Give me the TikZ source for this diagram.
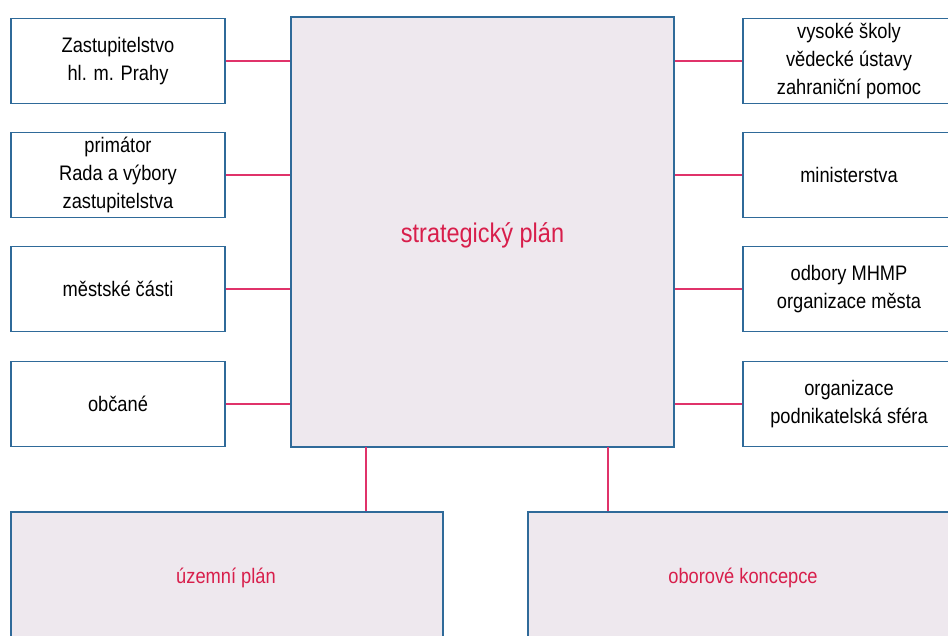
\documentclass[tikz,border=0pt]{standalone}
\usepackage{fontspec}
\setmainfont[FakeStretch=0.87]{Liberation Sans}
\definecolor{bordc}{HTML}{2F6A99}
\definecolor{linkc}{HTML}{E0336A}
\definecolor{fillc}{HTML}{EEE8EE}
\definecolor{redtxt}{HTML}{D81E4B}
\begin{document}
\begin{tikzpicture}[x=1pt,y=-1pt,
  boxbase/.style={draw=bordc,line width=1.8pt,inner sep=0pt,align=center,
    font=\fontsize{21}{28}\selectfont},
  sidebox/.style={boxbase,fill=white,minimum width=214pt,minimum height=85pt},
  bigbox/.style={boxbase,fill=fillc,text=redtxt},
  link/.style={draw=linkc,line width=1.6pt}]
\useasboundingbox (0,0) rectangle (948,635);
% centre
\node[bigbox,minimum width=383pt,minimum height=430pt] (c) at (482.5,232) {};
\node[text=redtxt,font=\fontsize{27}{32}\selectfont] (ct) at (482.5,235) {strategický plán};
% left
\node[sidebox] (l1) at (118,61) {Zastupitelstvo\\hl. m. Prahy};
\node[sidebox] (l2) at (118,175) {primátor\\Rada a výbory\\zastupitelstva};
\node[sidebox] (l3) at (118,289) {městské části};
\node[sidebox] (l4) at (118,404) {občané};
% right
\node[sidebox,minimum width=212pt] (r1) at (849,61) {vysoké školy\\vědecké ústavy\\zahraniční pomoc};
\node[sidebox,minimum width=212pt] (r2) at (849,175) {ministerstva};
\node[sidebox,minimum width=212pt] (r3) at (849,289) {odbory MHMP\\organizace města};
\node[sidebox,minimum width=212pt] (r4) at (849,404) {organizace\\podnikatelská sféra};
% bottom
\node[bigbox,minimum width=432pt,minimum height=140pt] (b1) at (227,582) {};
\node[text=redtxt,font=\fontsize{21}{28}\selectfont] (b1t) at (226,578) {územní plán};
\node[bigbox,minimum width=430pt,minimum height=140pt] (b2) at (743,582) {};
\node[text=redtxt,font=\fontsize{21}{28}\selectfont] (b2t) at (743,578) {oborové koncepce};
% connectors
\foreach \n in {l1,l2,l3,l4}{\draw[link] (\n.east) -- (c.west |- \n.east);}
\foreach \n in {r1,r2,r3,r4}{\draw[link] (\n.west) -- (c.east |- \n.west);}
\coordinate (cb1) at (366,447);
\coordinate (cb2) at (608,447);
\draw[link] (cb1) -- (cb1 |- b1.north);
\draw[link] (cb2) -- (cb2 |- b2.north);
\end{tikzpicture}
\end{document}
